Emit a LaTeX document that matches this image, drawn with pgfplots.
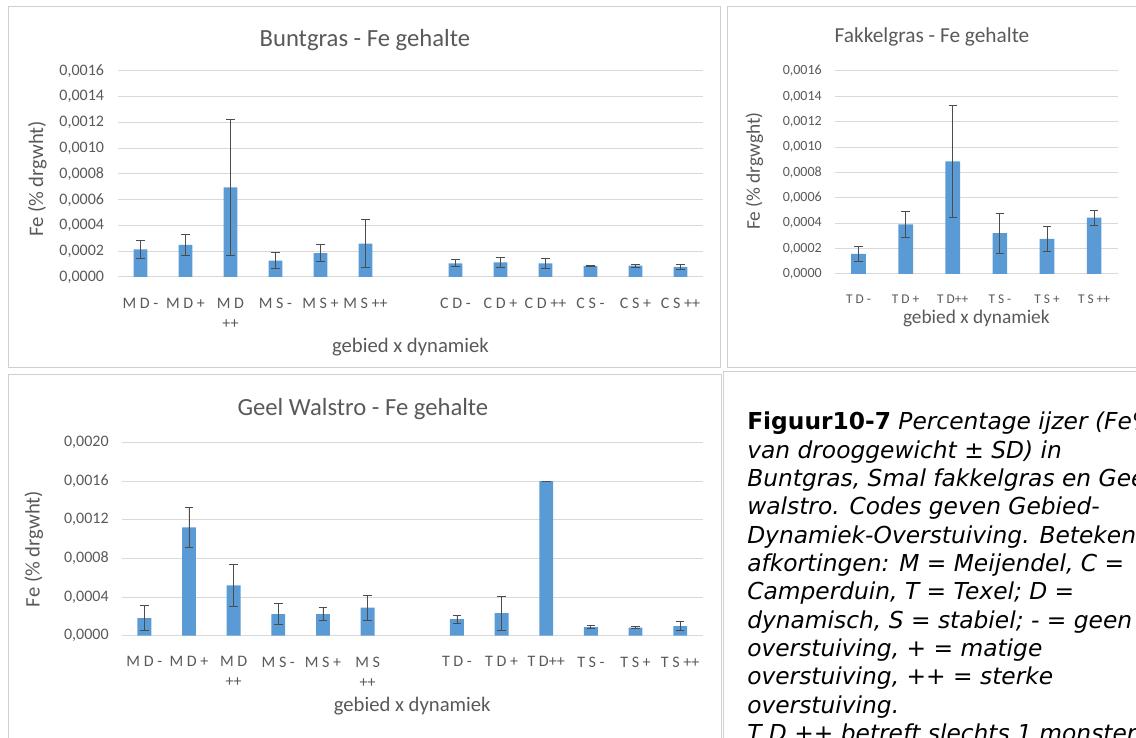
\documentclass[border=0pt]{standalone}
\usepackage{pgfplots}
\pgfplotsset{compat=1.18}
\usepackage{fontspec}
\setmainfont{Carlito}
\newfontfamily\capfont{DejaVu Sans}

\definecolor{barblue}{HTML}{5B9BD5}
\definecolor{gridgray}{HTML}{D9D9D9}
\definecolor{txtgray}{HTML}{595959}
\definecolor{framegray}{HTML}{D0D0D0}

% shared look of the three Excel-style charts
\pgfplotsset{
  fe/.style={
    scale only axis, anchor=south west,
    ybar, enlargelimits=false, ymin=0,
    axis line style={draw=none},
    major tick style={draw=none},
    ymajorgrids, grid style={gridgray, line width=0.75pt},
    scaled y ticks=false,
    yticklabel style={/pgf/number format/fixed, /pgf/number format/fixed zerofill,
      /pgf/number format/precision=4, /pgf/number format/use comma,
      /pgf/number format/assume math mode=true},
    tick label style={txtgray},
    xticklabel style={align=center},
    label style={txtgray},
    title style={txtgray, yshift=-7.5pt},
  },
  febar/.style={
    draw=none, fill=barblue,
    error bars/.cd, y dir=both, y explicit,
    error bar style={black!70, line width=0.6pt},
    error mark options={rotate=90, black!70, mark size=3.2pt, line width=0.6pt},
  },
}

\begin{document}
\begin{tikzpicture}[x=0.75pt, y=0.75pt]
\useasboundingbox (0,0) rectangle (1136,738);
\clip (0,0) rectangle (1136,738);

% panel frames
\draw[framegray, line width=0.75pt] (8,370) rectangle (720,731);
\draw[framegray, line width=0.75pt] (727,370) rectangle (1145,731);
\draw[framegray, line width=0.75pt] (8,-5) rectangle (721,363);
\draw[framegray, line width=0.75pt] (723,-5) -- (723,366) -- (1145,366);

% ---------- Buntgras ----------
\begin{axis}[fe,
  at={(88.5pt,345.75pt)}, width=438.75pt, height=154.5pt,
  bar width=10.4pt,
  xmin=-0.5, xmax=12.5, ymax=0.0016,
  ytick={0,0.0002,0.0004,0.0006,0.0008,0.0010,0.0012,0.0014,0.0016},
  xtick={0,...,12},
  xticklabels={{M D -},{M D +},{M D\\++},{M S -},{M S +},{M S ++},{},{C D -},{C D +},{C D ++},{C S -},{C S +},{C S ++}},
  xticklabel style={font=\fontsize{12}{15}\selectfont, yshift=-7.9pt},
  yticklabel style={font=\fontsize{12}{14}\selectfont, xshift=-7pt},
  title={Buntgras - Fe gehalte},
  title style={font=\fontsize{18.5}{22}\selectfont, at={(axis description cs:0.422,1.160)}, anchor=center},
  ylabel={Fe (\% drgwht)},
  ylabel style={font=\fontsize{15.5}{18}\selectfont, at={(axis description cs:-0.138,0.476)}, anchor=center, rotate=0},
  xlabel={gebied x dynamiek},
  xlabel style={font=\fontsize{15.5}{18}\selectfont, at={(axis description cs:0.5,-0.34)}, anchor=center},
]
\addplot[febar] coordinates {
  (0,0.000215) +- (0,0.000070)
  (1,0.000249) +- (0,0.000084)
  (2,0.000697) +- (0,0.000530)
  (3,0.000127) +- (0,0.000064)
  (4,0.000186) +- (0,0.000068)
  (5,0.000259) +- (0,0.000185)
  (7,0.000106) +- (0,0.000027)
  (8,0.000114) +- (0,0.000037)
  (9,0.000106) +- (0,0.000038)
  (10,0.000086) +- (0,0.000005)
  (11,0.000088) +- (0,0.000011)
  (12,0.000078) +- (0,0.000018)
};
\end{axis}

% ---------- Fakkelgras ----------
\begin{axis}[fe,
  at={(626.25pt,348pt)}, width=212pt, height=152.25pt,
  bar width=11pt,
  xmin=-0.5, xmax=5.5, ymax=0.0016,
  ytick={0,0.0002,0.0004,0.0006,0.0008,0.0010,0.0012,0.0014,0.0016},
  xtick={0,...,5},
  xticklabels={{T D -},{T D +},{T D++},{T S -},{T S +},{T S ++}},
  xticklabel style={font=\fontsize{10}{12}\selectfont, yshift=-7.7pt},
  yticklabel style={font=\fontsize{10.5}{12}\selectfont, xshift=-6.4pt},
  title={Fakkelgras - Fe gehalte},
  title style={font=\fontsize{16}{19}\selectfont, at={(axis description cs:0.343,1.177)}, anchor=center},
  ylabel={Fe (\% drgwght)},
  ylabel style={font=\fontsize{14.5}{17}\selectfont, at={(axis description cs:-0.285,0.507)}, anchor=center, rotate=0},
  xlabel={gebied x dynamiek},
  xlabel style={font=\fontsize{14.5}{17}\selectfont, at={(axis description cs:0.5,-0.217)}, anchor=center},
]
\addplot[febar] coordinates {
  (0,0.000158) +- (0,0.000060)
  (1,0.000392) +- (0,0.000105)
  (2,0.000888) +- (0,0.000440)
  (3,0.000323) +- (0,0.000157)
  (4,0.000276) +- (0,0.000100)
  (5,0.000444) +- (0,0.000060)
};
\end{axis}

% ---------- Geel Walstro ----------
\begin{axis}[fe,
  at={(91.5pt,76.7pt)}, width=435.4pt, height=145pt,
  bar width=10.4pt,
  xmin=-0.5, xmax=12.5, ymax=0.0020,
  ytick={0,0.0004,0.0008,0.0012,0.0016,0.0020},
  xtick={0,...,12},
  xticklabels={{M D -},{M D +},{M D\\++},{M S -},{M S +},{M S\\++},{},{T D -},{T D +},{T D++},{T S -},{T S +},{T S ++}},
  xticklabel style={font=\fontsize{12}{15}\selectfont, yshift=-7.9pt},
  yticklabel style={font=\fontsize{12}{14}\selectfont, xshift=-6.5pt},
  title={Geel Walstro - Fe gehalte},
  title style={font=\fontsize{18.5}{22}\selectfont, at={(axis description cs:0.415,1.184)}, anchor=center},
  ylabel={Fe (\% drgwht)},
  ylabel style={font=\fontsize{15.5}{18}\selectfont, at={(axis description cs:-0.152,0.448)}, anchor=center, rotate=0},
  xlabel={gebied x dynamiek},
  xlabel style={font=\fontsize{15.5}{18}\selectfont, at={(axis description cs:0.5,-0.364)}, anchor=center},
]
\addplot[febar] coordinates {
  (0,0.000183) +- (0,0.000126)
  (1,0.001120) +- (0,0.000210)
  (2,0.000520) +- (0,0.000215)
  (3,0.000224) +- (0,0.000107)
  (4,0.000224) +- (0,0.000064)
  (5,0.000290) +- (0,0.000130)
  (7,0.000172) +- (0,0.000040)
  (8,0.000234) +- (0,0.000177)
  (9,0.001600) +- (0,0.000000)
  (10,0.000090) +- (0,0.000014)
  (11,0.000083) +- (0,0.000010)
  (12,0.000100) +- (0,0.000045)
};
\end{axis}

% ---------- caption ----------
\begin{scope}[every node/.style={anchor=base west, inner sep=0pt, font=\capfont\fontsize{17.5}{21}\selectfont}]
\node at (747,308.0) {\textbf{Figuur10-7} \textit{Percentage ijzer (Fe\% }};
\node at (747,279.7) {\textit{van drooggewicht ± SD) in}};
\node at (747,251.3) {\textit{Buntgras, Smal fakkelgras en Geel}};
\node at (747,223.0) {\textit{walstro. Codes geven Gebied-}};
\node at (747,194.7) {\textit{Dynamiek-Overstuiving. Betekenis}};
\node at (747,166.3) {\textit{afkortingen: M = Meijendel, C =}};
\node at (747,138.0) {\textit{Camperduin, T = Texel; D =}};
\node at (747,109.7) {\textit{dynamisch, S = stabiel; - = geen}};
\node at (747,81.3) {\textit{overstuiving, + = matige}};
\node at (747,53.0) {\textit{overstuiving, ++ = sterke}};
\node at (747,24.7) {\textit{overstuiving.}};
\node at (747,-3.7) {\textit{T D ++ betreft slechts 1 monster}};
\end{scope}
\end{tikzpicture}
\end{document}
